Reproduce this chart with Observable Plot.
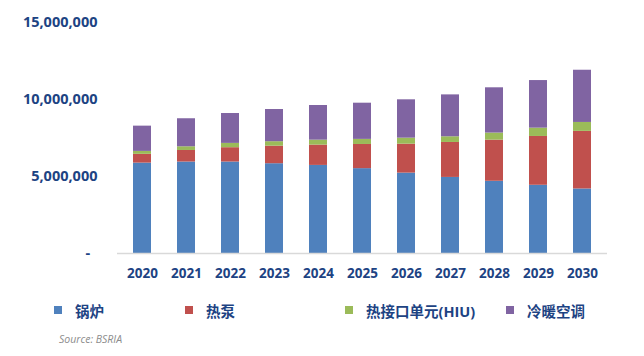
<!DOCTYPE html>
<html>
<head>
<meta charset="utf-8">
<script src="https://cdn.jsdelivr.net/npm/d3@7"></script>
<script src="https://cdn.jsdelivr.net/npm/@observablehq/plot@0.6"></script>
<style>
  html, body { margin: 0; padding: 0; background: #fff; }
  #wrap { position: relative; width: 644px; height: 356px; overflow: hidden; font-family: "Open Sans", "Noto Sans CJK SC", sans-serif; }
  #chart { position: absolute; left: 0; top: 0; }
  .leg { position: absolute; top: 300px; height: 20px; display: flex; align-items: center; font-weight: bold; font-size: 14.5px; color: #1d4383; white-space: nowrap; }
  .sw { width: 8px; height: 8px; margin-right: 13px; }
  #source { position: absolute; left: 59px; top: 332px; font-size: 10.5px; font-style: italic; color: #8c8c8c; }
</style>
</head>
<body>
<div id="wrap">
  <div id="chart"></div>
  <div id="legend"></div>
  <div id="source">Source: BSRIA</div>
</div>
<script>
const years = ["2020","2021","2022","2023","2024","2025","2026","2027","2028","2029","2030"];
const seriesNames = ["锅炉", "热泵", "热接口单元(HIU)", "冷暖空调"];
const seriesColors = ["#4f81bd", "#c0504d", "#9bbb59", "#8064a2"];
const boiler   = [5870000,5940000,5940000,5830000,5720000,5510000,5220000,4940000,4690000,4430000,4190000];
const heatPump = [570000,750000,930000,1140000,1320000,1570000,1880000,2270000,2670000,3170000,3740000];
const hiu      = [190000,240000,280000,290000,320000,330000,390000,370000,460000,540000,580000];
const aircon   = [1640000,1820000,1940000,2090000,2250000,2350000,2490000,2720000,2940000,3090000,3390000];
const yTicks = [0, 5000000, 10000000, 15000000];

const seriesValues = [boiler, heatPump, hiu, aircon];
const data = [];
years.forEach((yr, i) => {
  seriesNames.forEach((s, k) => data.push({year: yr, series: s, value: seriesValues[k][i]}));
});

const textColor = "#1d4383";
const plot = Plot.plot({
  width: 644,
  height: 290,
  marginLeft: 117,
  marginRight: 37,
  marginTop: 22,
  marginBottom: 37,
  style: {fontFamily: "'Open Sans', 'Noto Sans CJK SC', sans-serif", background: "transparent"},
  x: {domain: years, paddingInner: 0.6, paddingOuter: 0.3, label: null},
  y: {domain: [0, 15000000], label: null},
  color: {domain: seriesNames, range: seriesColors},
  marks: [
    Plot.barY(data, {x: "year", y: "value", fill: "series", order: seriesNames}),
    Plot.ruleY([0], {stroke: "#d9d9d9", strokeWidth: 1.5}),
    Plot.axisY({ticks: yTicks, tickSize: 0, tickPadding: 20, label: null,
      tickFormat: d => d === 0 ? "-\u2002" : d3.format(",")(d),
      fontSize: 14.5, fontWeight: "bold", fill: textColor}),
    Plot.axisX({tickSize: 0, tickPadding: 15, label: null, fontSize: 13.5, fontWeight: "bold", fill: textColor})
  ]
});
document.getElementById("chart").appendChild(plot);

const legendX = [54, 185, 345, 506];
const legend = document.getElementById("legend");
seriesNames.forEach((s, k) => {
  const item = document.createElement("div");
  item.className = "leg";
  item.style.left = legendX[k] + "px";
  const sw = document.createElement("span");
  sw.className = "sw";
  sw.style.background = seriesColors[k];
  const t = document.createElement("span");
  t.textContent = s;
  item.appendChild(sw);
  item.appendChild(t);
  legend.appendChild(item);
});
</script>
</body>
</html>
